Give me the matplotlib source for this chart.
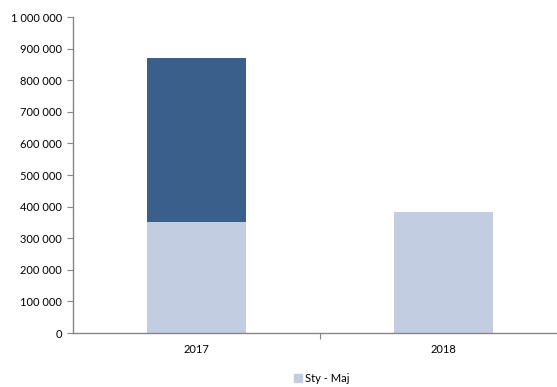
import matplotlib.pyplot as plt
import matplotlib.ticker as mticker
from matplotlib.patches import Patch

plt.rcParams['font.family'] = ['Lato', 'DejaVu Sans']

years = ['2017', '2018']
sty_maj = [352000, 384000]
reszta = [519000, 0]

light = '#C3CDE2'
dark = '#3A5F8B'
grey = '#868686'

fig = plt.figure(figsize=(5.57, 3.87), dpi=100)
ax = fig.add_axes([73 / 557, 54 / 387, 494 / 557, 316 / 387])

pos = list(range(len(years)))
ax.bar(pos, sty_maj, width=0.4, color=light, zorder=2)
ax.bar(pos, reszta, width=0.4, bottom=sty_maj, color=dark, zorder=2)

ax.set_xlim(-0.5, 1.5)
ax.set_ylim(0, 1000000)
ax.yaxis.set_major_locator(mticker.MultipleLocator(100000))
ax.yaxis.set_major_formatter(mticker.FuncFormatter(lambda v, p: f'{int(v):,}'.replace(',', ' ')))

# category labels sit between the tick marks
ax.set_xticks([0.5])
ax.set_xticklabels([''])
ax.set_xticks(pos, minor=True)
ax.set_xticklabels(years, minor=True)
ax.tick_params(axis='x', which='major', length=4, color=grey)
ax.tick_params(axis='x', which='minor', length=0, pad=8, labelsize=8)
ax.tick_params(axis='y', length=4, color=grey, labelsize=8, pad=4)

for s in ['top', 'right']:
    ax.spines[s].set_visible(False)
for s in ['left', 'bottom']:
    ax.spines[s].set_color(grey)
    ax.spines[s].set_linewidth(1)

fig.legend(handles=[Patch(color=light, label='Sty - Maj')], loc='center',
           bbox_to_anchor=(322 / 557, 1 - 378 / 387), frameon=False,
           fontsize=8, handlelength=0.7, handleheight=0.7, handletextpad=0.3)

fig.savefig('out.png', dpi=100)
